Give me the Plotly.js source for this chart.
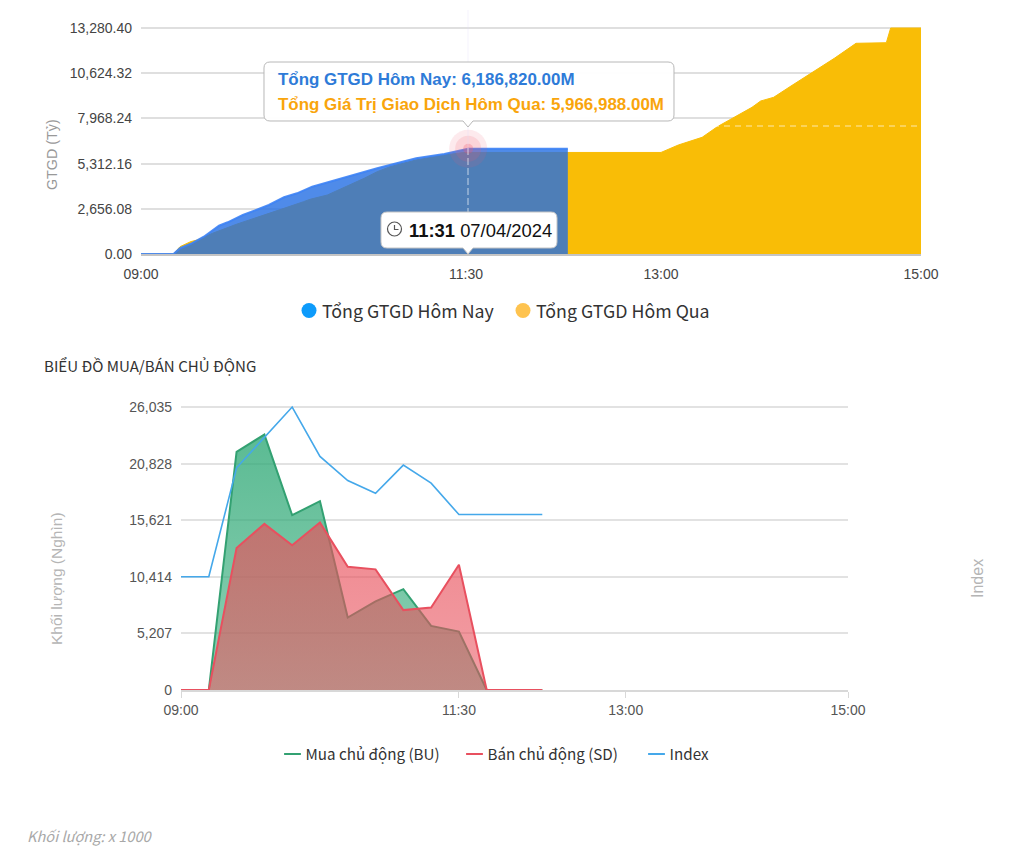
<!DOCTYPE html>
<html><head><meta charset="utf-8">
<script src="https://cdn.plot.ly/plotly-3.0.1.min.js"></script>
<style>html,body{margin:0;padding:0;background:#fff}#c{width:1024px;height:859px}</style>
</head><body><div id="c"></div>
<script>
const D='2024-04-07 ';
const todayTimes=['09:00','09:15','09:18','09:23','09:29','09:33','09:36','09:40','09:47','09:54','09:59','10:06','10:12','10:19','10:27','10:38','10:49','10:58','11:07','11:20','11:25','11:31','12:17'];
const todayValues=[0,0,340,600,1017,1410,1663,1863,2292,2627,2879,3332,3567,3955,4248,4642,5036,5330,5623,5876,6010,6186.82,6186.82];
const yesterdayTimes=['09:00','09:15','09:18','09:23','09:26','09:33','09:44','09:54','10:06','10:15','10:18','10:26','10:33','10:43','10:49','10:55','11:07','11:20','11:29','13:00','13:08','13:19','13:26','13:34','13:42','13:46','13:52','14:00','14:10','14:20','14:30','14:44','14:46','15:00'];
const yesterdayValues=[0,0,430,730,823,1216,1745,2192,2685,3073,3214,3467,3860,4448,4836,5130,5523,5817,5966.99,5966.99,6405,6857,7480,8068,8620,8990,9208,9872,10677,11499,12381,12415,13280.4,13280.4];
const flowTimes=['09:00','09:15','09:30','09:45','10:00','10:15','10:30','10:45','11:00','11:15','11:30','11:45','12:00','12:15'];
const buyValues=[0,0,21900,23500,16080,17370,6670,8150,9280,5900,5380,0,0,0];
const sellValues=[0,0,13060,15280,13310,15400,11340,11100,7350,7590,11530,0,0,0];
const indexValues=[10420,10420,20440,23200,26035,21490,19270,18100,20690,19030,16140,16140,16140,16140];
const topTickVals=[0,2656.08,5312.16,7968.24,10624.32,13280.40];
const topTickText=['0.00','2,656.08','5,312.16','7,968.24','10,624.32','13,280.40'];
const flowTickVals=[0,5207,10414,15621,20828,26035];
const flowTickText=['0','5,207','10,414','15,621','20,828','26,035'];
const timeTicks=['09:00','11:30','13:00','15:00'];
const hoverTime='11:31';
const hoverValue=6186.82;
const flowLegendNames=['Mua chủ động (BU)','Bán chủ động (SD)','Index'];

const W=1024,H=859;
const px=x=>x/W, py=y=>1-y/H;
const ARIAL='"Liberation Sans",Arial,sans-serif', SRC='"Noto Sans CJK SC","Noto Sans",sans-serif';
const ts=a=>a.map(t=>D+t+':00');
const xr=[D+'09:00:00',D+'15:00:00'];

const traces=[
 {x:ts(yesterdayTimes),y:yesterdayValues,type:'scatter',mode:'lines',fill:'tozeroy',fillcolor:'#f9bd06',line:{color:'#f9bd06',width:1},showlegend:false,hoverinfo:'skip'},
 {x:ts(todayTimes),y:todayValues,type:'scatter',mode:'lines',fill:'tozeroy',fillcolor:'rgba(35,110,228,0.8)',line:{color:'rgba(60,130,245,0.9)',width:2},showlegend:false,hoverinfo:'skip'},
 {x:ts([hoverTime,hoverTime,hoverTime]),y:[hoverValue,hoverValue,hoverValue],type:'scatter',mode:'markers',marker:{size:[38,26,10],color:['rgba(240,90,110,0.18)','rgba(240,90,110,0.22)','rgba(240,90,110,0.4)'],line:{width:0}},showlegend:false,hoverinfo:'skip'},
 {x:[null],y:[null],type:'scatter',mode:'markers',name:'Tổng GTGD Hôm Nay',marker:{size:15,color:'#0d9bfb'},legend:'legend'},
 {x:[null],y:[null],type:'scatter',mode:'markers',name:'Tổng GTGD Hôm Qua',marker:{size:15,color:'#fec34f'},legend:'legend'},

 {x:ts(flowTimes),y:buyValues,xaxis:'x2',yaxis:'y2',type:'scatter',mode:'lines',fill:'tozeroy',cliponaxis:false,
  fillgradient:{type:'vertical',colorscale:[[0,'rgba(50,170,120,0.55)'],[1,'rgba(50,170,120,0.8)']]},line:{color:'#33a172',width:2},showlegend:false,hoverinfo:'skip'},
 {x:ts(flowTimes),y:sellValues,xaxis:'x2',yaxis:'y2',type:'scatter',mode:'lines',fill:'tozeroy',cliponaxis:false,
  fillgradient:{type:'vertical',colorscale:[[0,'rgba(232,80,91,0.55)'],[1,'rgba(232,80,91,0.68)']]},line:{color:'#e8505f',width:2},showlegend:false,hoverinfo:'skip'},
 {x:ts(flowTimes),y:indexValues,xaxis:'x2',yaxis:'y3',type:'scatter',mode:'lines',cliponaxis:false,line:{color:'#45a8ea',width:1.6},showlegend:false,hoverinfo:'skip'},
 {x:[null],y:[null],xaxis:'x2',yaxis:'y2',type:'scatter',mode:'markers',name:flowLegendNames[0],marker:{symbol:'line-ew-open',size:12,color:'#33a172',line:{width:2,color:'#33a172'}},legend:'legend2'},
 {x:[null],y:[null],xaxis:'x2',yaxis:'y2',type:'scatter',mode:'markers',name:flowLegendNames[1],marker:{symbol:'line-ew-open',size:12,color:'#e8505f',line:{width:2,color:'#e8505f'}},legend:'legend2'},
 {x:[null],y:[null],xaxis:'x2',yaxis:'y2',type:'scatter',mode:'markers',name:flowLegendNames[2],marker:{symbol:'line-ew-open',size:12,color:'#45a8ea',line:{width:2,color:'#45a8ea'}},legend:'legend2'}
];

function qPath(pts){
  let s='';for(let i=0;i<pts.length;i++){const p=pts[i];
    if(p[2]==='Q'){const e=pts[++i];s+=' Q'+px(p[0]).toFixed(5)+','+py(p[1]).toFixed(5)+' '+px(e[0]).toFixed(5)+','+py(e[1]).toFixed(5);}
    else s+=(i?' L':'M')+px(p[0]).toFixed(5)+','+py(p[1]).toFixed(5);}
  return s+' Z';}
const tip=[[270,62],[668,62],[674,62,'Q'],[674,68],[674,115],[674,121,'Q'],[668,121],[473,121],[468,127],[463,121],[270,121],[264,121,'Q'],[264,115],[264,68],[264,62,'Q'],[270,62]];
const tm=[[387,212],[551,212],[557,212,'Q'],[557,218],[557,242],[557,248,'Q'],[551,248],[473,248],[468,254],[463,248],[387,248],[381,248,'Q'],[381,242],[381,218],[381,212,'Q'],[387,212]];

const shapes=[
 {type:'line',xref:'paper',yref:'paper',x0:px(141),x1:px(921),y0:py(126),y1:py(126),line:{color:'rgba(255,255,255,0.45)',width:1.5,dash:'6px,5px'},layer:'above'},
 {type:'line',xref:'paper',yref:'paper',x0:px(468),x1:px(468),y0:py(10),y1:py(148),line:{color:'rgba(225,220,250,0.35)',width:1},layer:'above'},
 {type:'line',xref:'paper',yref:'paper',x0:px(468),x1:px(468),y0:py(148),y1:py(254),line:{color:'rgba(255,255,255,0.45)',width:1.5,dash:'7px,3px'},layer:'above'},
 {type:'path',xref:'paper',yref:'paper',path:qPath(tip),fillcolor:'rgba(255,255,255,0.97)',line:{color:'#b8b8b8',width:1},layer:'above'},
 {type:'path',xref:'paper',yref:'paper',path:qPath(tm),fillcolor:'#fff',line:{color:'#c4c4c4',width:1},layer:'above'},
 {type:'circle',xref:'paper',yref:'paper',x0:px(387.5),x1:px(401.5),y0:py(222),y1:py(236),line:{color:'#555',width:1.2},fillcolor:'rgba(0,0,0,0)',layer:'above'},
 {type:'path',xref:'paper',yref:'paper',path:'M'+px(394.5)+','+py(225)+' L'+px(394.5)+','+py(229.5)+' L'+px(398.5)+','+py(229.5),line:{color:'#555',width:1.2},layer:'above'}
];
const ann=(x,y,text,font,extra)=>Object.assign({xref:'paper',yref:'paper',x:px(x),y:py(y),text,showarrow:false,xanchor:'left',yanchor:'middle',font},extra||{});
const annotations=[
 ann(275.5,80,'<b>Tổng GTGD Hôm Nay: 6,186,820.00M</b>',{family:ARIAL,size:16.95,color:'#2e7bd8'}),
 ann(275.5,104.5,'<b>Tổng Giá Trị Giao Dịch Hôm Qua: 5,966,988.00M</b>',{family:ARIAL,size:16.95,color:'#f9a50c'}),
 ann(407,230,'<b>11:31</b> 07/04/2024',{family:ARIAL,size:18.4,color:'#111'}),
 ann(41.5,364.5,'BIỂU ĐỒ MUA/BÁN CHỦ ĐỘNG',{family:SRC,size:15.1,color:'#333'}),
 ann(24.5,835,'<i>Khối lượng: x 1000</i>',{family:SRC,size:14.6,color:'#a8a8a8'}),
 ann(52,155,'GTGD (Tỷ)',{family:ARIAL,size:14.3,color:'#999'},{xanchor:'center',textangle:-90}),
 ann(56,579,'Khối lượng (Nghìn)',{family:ARIAL,size:15.5,color:'#b5b5b5'},{xanchor:'center',textangle:-90}),
 ann(977,579,'Index',{family:ARIAL,size:16,color:'#b5b5b5'},{xanchor:'center',textangle:-90})
];
const layout={
 width:W,height:H,margin:{l:0,r:0,t:0,b:0},paper_bgcolor:'#fff',plot_bgcolor:'#fff',hovermode:false,
 xaxis:{type:'date',domain:[px(141),px(921)],range:xr,anchor:'y',tickmode:'array',tickvals:ts(timeTicks),ticktext:timeTicks,ticks:'',showgrid:false,showline:true,linecolor:'#c4c4c4',linewidth:2,zeroline:false,ticklabelstandoff:6,tickfont:{family:ARIAL,size:14,color:'#444'}},
 yaxis:{domain:[py(254),py(26)],range:[0,13397.9],tickmode:'array',tickvals:topTickVals,ticktext:topTickText,ticks:'',gridcolor:'#dfdfdf',gridwidth:1.5,zeroline:false,showline:false,tickfont:{family:ARIAL,size:14,color:'#444'},ticklabelstandoff:8},
 xaxis2:{type:'date',domain:[px(181),px(848)],range:xr,anchor:'y2',layer:'below traces',tickmode:'array',tickvals:ts(timeTicks),ticktext:timeTicks,ticks:'outside',ticklen:6,tickcolor:'#d8d8d8',showgrid:false,showline:true,linecolor:'#d8d8d8',linewidth:2,zeroline:false,tickfont:{family:ARIAL,size:14,color:'#555'}},
 yaxis2:{anchor:'x2',domain:[py(690),py(405)],range:[0,26219],tickmode:'array',tickvals:flowTickVals,ticktext:flowTickText,ticks:'',gridcolor:'#e2e2e2',gridwidth:1.5,zeroline:false,showline:false,tickfont:{family:ARIAL,size:14,color:'#555'},ticklabelstandoff:8},
 yaxis3:{anchor:'x2',overlaying:'y2',side:'right',range:[0,26219],showticklabels:false,showgrid:false,zeroline:false,ticks:''},
 legend:{orientation:'h',x:px(289),y:py(311),yanchor:'middle',xanchor:'left',font:{family:SRC,size:17.8,color:'#333'},itemclick:false,entrywidth:169,entrywidthmode:'pixels',bgcolor:'rgba(0,0,0,0)'},
 legend2:{orientation:'h',x:px(272.5),y:py(754),yanchor:'middle',xanchor:'left',font:{family:SRC,size:15.2,color:'#333'},itemclick:false,entrywidth:137,entrywidthmode:'pixels',bgcolor:'rgba(0,0,0,0)'},
 shapes,annotations
};
Plotly.newPlot('c',traces,layout,{displayModeBar:false,responsive:false}).then(()=>{
  // tighten the gap between legend swatch and label, as in the reference
  document.querySelectorAll('.legendtext,.legend2text').forEach(t=>{
    const x=(parseFloat(t.getAttribute('x'))||40)-7;
    t.setAttribute('x',x);
    t.querySelectorAll('tspan[x]').forEach(s=>s.setAttribute('x',x));
  });
});
</script></body></html>
